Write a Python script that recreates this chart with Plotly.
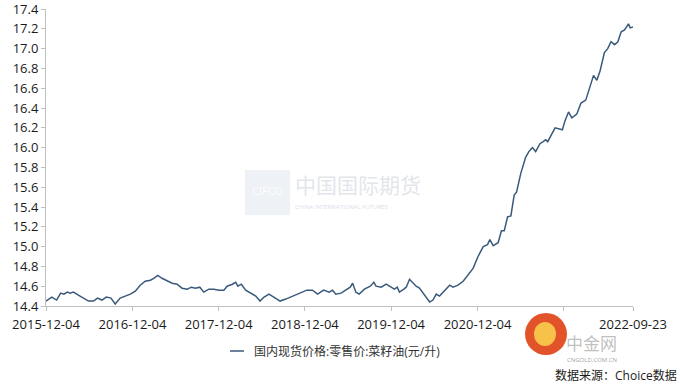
import plotly.graph_objects as go

dates = [
    "2015-12-04", "2015-12-28", "2016-01-18", "2016-02-04", "2016-02-18", "2016-03-03",
    "2016-03-15", "2016-03-29", "2016-04-19", "2016-05-10", "2016-06-01", "2016-06-22",
    "2016-07-09", "2016-07-28", "2016-08-15", "2016-09-04", "2016-09-22", "2016-10-13",
    "2016-11-03", "2016-11-25", "2016-12-16", "2017-01-06", "2017-01-27", "2017-02-18",
    "2017-03-04", "2017-03-21", "2017-04-08", "2017-04-30", "2017-05-21", "2017-06-11",
    "2017-07-02", "2017-07-24", "2017-08-10", "2017-08-28", "2017-09-15", "2017-10-02",
    "2017-10-23", "2017-11-14", "2017-12-05", "2017-12-26", "2018-01-09", "2018-01-31",
    "2018-02-14", "2018-02-23", "2018-03-10", "2018-03-28", "2018-04-18", "2018-05-10",
    "2018-05-28", "2018-06-14", "2018-07-05", "2018-07-26", "2018-08-21", "2018-09-14",
    "2018-10-05", "2018-10-27", "2018-11-17", "2018-12-12", "2019-01-05", "2019-01-27",
    "2019-02-21", "2019-03-17", "2019-03-31", "2019-04-14", "2019-05-06", "2019-05-27",
    "2019-06-14", "2019-06-24", "2019-07-08", "2019-07-22", "2019-08-13", "2019-09-07",
    "2019-09-22", "2019-10-01", "2019-10-23", "2019-11-13", "2019-12-04", "2019-12-18",
    "2019-12-30", "2020-01-08", "2020-01-27", "2020-02-06", "2020-02-20", "2020-03-05",
    "2020-03-19", "2020-04-02", "2020-04-17", "2020-05-01", "2020-05-15", "2020-05-29",
    "2020-06-12", "2020-06-26", "2020-07-17", "2020-08-08", "2020-08-22", "2020-09-12",
    "2020-10-04", "2020-10-25", "2020-11-15", "2020-12-06", "2020-12-28", "2021-01-15",
    "2021-01-25", "2021-02-08", "2021-03-01", "2021-03-15", "2021-03-27", "2021-04-10",
    "2021-04-24", "2021-05-08", "2021-05-18", "2021-06-05", "2021-06-25", "2021-07-09",
    "2021-07-24", "2021-08-07", "2021-08-25", "2021-09-08", "2021-09-18", "2021-09-27",
    "2021-10-11", "2021-10-28", "2021-11-28", "2021-12-09", "2021-12-24", "2022-01-07",
    "2022-01-28", "2022-02-15", "2022-03-07", "2022-03-18", "2022-04-09", "2022-04-23",
    "2022-05-07", "2022-05-25", "2022-06-08", "2022-06-22", "2022-07-07", "2022-07-21",
    "2022-08-04", "2022-08-18", "2022-08-28", "2022-09-04", "2022-09-11", "2022-09-23",
]

prices = [
    14.45, 14.49, 14.46, 14.53, 14.52, 14.54,
    14.53, 14.54, 14.51, 14.48, 14.45, 14.45,
    14.48, 14.46, 14.49, 14.48, 14.42, 14.48,
    14.50, 14.52, 14.55, 14.61, 14.65, 14.66,
    14.68, 14.71, 14.68, 14.65, 14.63, 14.62,
    14.58, 14.57, 14.59, 14.58, 14.59, 14.54,
    14.57, 14.57, 14.56, 14.56, 14.60, 14.62,
    14.64, 14.60, 14.62, 14.56, 14.53, 14.50,
    14.45, 14.49, 14.52, 14.49, 14.45, 14.47,
    14.49, 14.51, 14.53, 14.56, 14.56, 14.52,
    14.56, 14.54, 14.56, 14.52, 14.53, 14.56,
    14.59, 14.63, 14.54, 14.52, 14.57, 14.60,
    14.64, 14.60, 14.59, 14.62, 14.59, 14.57,
    14.59, 14.54, 14.57, 14.59, 14.67, 14.63,
    14.60, 14.58, 14.53, 14.48, 14.44, 14.46,
    14.52, 14.50, 14.55, 14.61, 14.59, 14.61,
    14.65, 14.72, 14.78, 14.90, 15.00, 15.02,
    15.07, 15.01, 15.04, 15.16, 15.16, 15.30,
    15.31, 15.52, 15.55, 15.74, 15.90, 15.96,
    16.00, 15.96, 16.04, 16.06, 16.08, 16.06,
    16.12, 16.20, 16.18, 16.27, 16.36, 16.30,
    16.34, 16.45, 16.48, 16.57, 16.73, 16.68,
    16.78, 16.96, 17.00, 17.07, 17.04, 17.07,
    17.17, 17.19, 17.22, 17.25, 17.21, 17.22,
]

tick_dates = ["2015-12-04", "2016-12-04", "2017-12-04", "2018-12-04",
              "2019-12-04", "2020-12-04", "2021-12-04", "2022-09-23"]
# the 2021-12-04 label is covered by the watermark logo in the reference
tick_labels = ["2015-12-04", "2016-12-04", "2017-12-04", "2018-12-04",
               "2019-12-04", "2020-12-04", "", "2022-09-23"]
y_ticks = [14.4, 14.6, 14.8, 15.0, 15.2, 15.4, 15.6, 15.8, 16.0,
           16.2, 16.4, 16.6, 16.8, 17.0, 17.2, 17.4]

series_name = "国内现货价格:零售价:菜籽油(元/升)"
source_text = "数据来源：Choice数据"

LINE = "#3a5a7c"
AXIS = "#bfbfbf"
FONT = "Open Sans, Noto Sans CJK SC, sans-serif"

T, B = 9, 79
PH = 385 - T - B  # plot height in px


def py(pix):
    """pixel row -> paper y (for decorations only)"""
    return (385 - B - pix) / PH


def px(pix):
    return (pix - 46) / 587


fig = go.Figure()
fig.add_trace(go.Scatter(
    x=dates, y=prices, mode="lines", name=series_name,
    line=dict(color=LINE, width=1.5), showlegend=False,
))

fig.update_layout(
    width=680, height=385,
    margin=dict(l=46, r=47, t=T, b=B),
    paper_bgcolor="white", plot_bgcolor="white",
    font=dict(family=FONT, size=13, color="#1a1a1a"),
    xaxis=dict(
        type="date", range=["2015-12-04", "2022-09-23"],
        tickmode="array", tickvals=tick_dates, ticktext=tick_labels,
        tickangle=0, automargin=False, ticklabelstandoff=2,
        ticklabeloverflow="allow",
        showgrid=False, zeroline=False,
        showline=True, linecolor=AXIS, linewidth=1,
        ticks="outside", ticklen=4, tickcolor=AXIS,
        tickfont=dict(size=13, color="#1a1a1a"),
    ),
    yaxis=dict(
        range=[14.4, 17.4005], tickmode="array", tickvals=y_ticks,
        ticktext=[f"{v:.1f}" for v in y_ticks], automargin=False,
        ticklabeloverflow="allow",
        showgrid=False, zeroline=False,
        showline=True, linecolor=AXIS, linewidth=1,
        ticks="outside", ticklen=4, tickcolor=AXIS,
        tickfont=dict(size=13, color="#1a1a1a"),
    ),
)

# manual legend
fig.add_shape(type="line", xref="paper", yref="paper",
              x0=px(230), x1=px(244), y0=py(351), y1=py(351),
              line=dict(color=LINE, width=1.5))
fig.add_annotation(xref="paper", yref="paper", x=px(252), y=py(351),
                   xanchor="left", yanchor="middle", showarrow=False,
                   text=series_name, font=dict(size=12, color="#333333"))

# CIFCO watermark
fig.add_shape(type="rect", xref="paper", yref="paper",
              x0=px(245), x1=px(290), y0=py(215), y1=py(170),
              fillcolor="rgba(200,210,222,0.3)", line=dict(width=0), layer="below")
fig.add_annotation(xref="paper", yref="paper", x=px(267), y=py(190),
                   showarrow=False, text="CIFCO",
                   font=dict(size=11, color="rgba(255,255,255,0.9)"))
fig.add_annotation(xref="paper", yref="paper", x=px(293), y=py(185),
                   xanchor="left", yanchor="middle", showarrow=False, text="中国国际期货",
                   font=dict(size=21, color="rgba(190,198,210,0.45)"))
fig.add_annotation(xref="paper", yref="paper", x=px(293), y=py(207),
                   xanchor="left", yanchor="middle", showarrow=False,
                   text="CHINA INTERNATIONAL FUTURES",
                   font=dict(size=6, color="rgba(190,198,210,0.6)"))

# CNGOLD watermark
fig.add_shape(type="circle", xref="paper", yref="paper",
              x0=px(525), x1=px(567), y0=py(355), y1=py(313),
              fillcolor="#e2532a", line=dict(width=0))
fig.add_shape(type="circle", xref="paper", yref="paper",
              x0=px(534), x1=px(556), y0=py(346), y1=py(322),
              fillcolor="#f7c24a", line=dict(width=0))
fig.add_annotation(xref="paper", yref="paper", x=px(618), y=py(343),
                   yanchor="middle", showarrow=False, borderpad=0,
                   text="中金网", font=dict(size=17, color="rgba(150,150,150,0.6)"))
fig.add_annotation(xref="paper", yref="paper", x=px(618), y=py(360),
                   yanchor="middle", showarrow=False, borderpad=0,
                   text="CNGOLD.COM.CN", font=dict(size=6, color="rgba(150,150,150,0.9)"))

# source
fig.add_annotation(xref="paper", yref="paper", x=px(678), y=py(375),
                   xanchor="right", yanchor="middle", showarrow=False, borderpad=0,
                   text=source_text, font=dict(size=12, color="#1a1a1a"))

fig.write_html("out.html")
